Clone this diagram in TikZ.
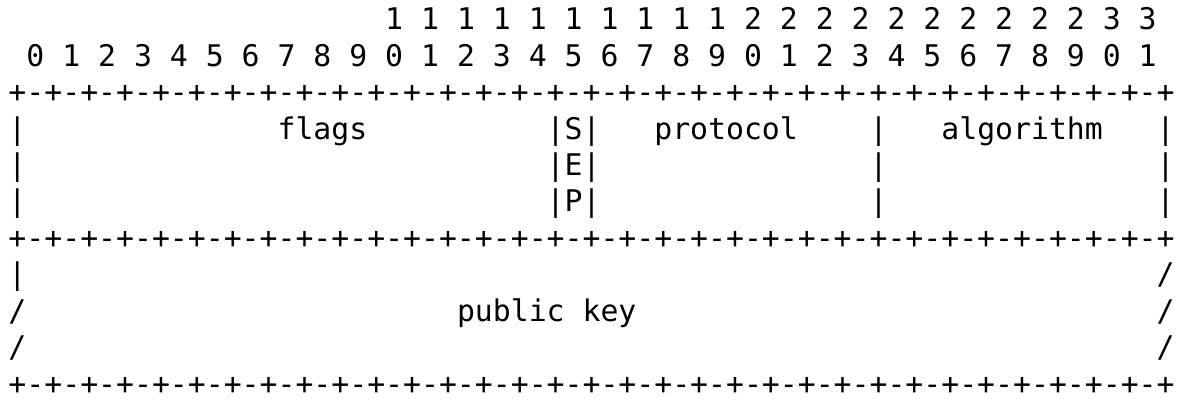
\documentclass[tikz,border=0pt]{standalone}
\usepackage{fontspec}
\setmonofont{DejaVu Sans Mono}
\begin{document}
\begin{tikzpicture}[
  x=17.94pt, y=-36.4pt,
  ch/.style={anchor=base west, inner sep=0pt, outer sep=0pt,
             font=\fontsize{29.8}{36}\selectfont\ttfamily, text=black}
]
\fill[white] (0pt,0pt) rectangle (1182pt,404pt);
\useasboundingbox (0pt,0pt) rectangle (1182pt,404pt);
\begin{scope}[shift={(8.5pt,374pt)}]
  % bit number rows
  \foreach \n in {10,...,31} {
    \pgfmathtruncatemacro{\d}{floor(\n/10)}
    \node[ch] (tens\n) at ({2*\n+1},0) {\d};
  }
  \foreach \n in {0,...,31} {
    \pgfmathtruncatemacro{\d}{mod(\n,10)}
    \node[ch] (ones\n) at ({2*\n+1},1) {\d};
  }
  % border rows
  \node[ch] (borderA) at (0,2) {+-+-+-+-+-+-+-+-+-+-+-+-+-+-+-+-+-+-+-+-+-+-+-+-+-+-+-+-+-+-+-+-+};
  \node[ch] (borderB) at (0,6) {+-+-+-+-+-+-+-+-+-+-+-+-+-+-+-+-+-+-+-+-+-+-+-+-+-+-+-+-+-+-+-+-+};
  \node[ch] (borderC) at (0,10) {+-+-+-+-+-+-+-+-+-+-+-+-+-+-+-+-+-+-+-+-+-+-+-+-+-+-+-+-+-+-+-+-+};
  % first word
  \node[ch] (l3a) at (0,3) {|};
  \node[ch] (flags) at (15,3) {flags};
  \node[ch] (sepS) at (30,3) {|S|};
  \node[ch] (protocol) at (36,3) {protocol};
  \node[ch] (l3b) at (48,3) {|};
  \node[ch] (algorithm) at (52,3) {algorithm};
  \node[ch] (l3c) at (64,3) {|};
  \node[ch] (l4a) at (0,4) {|};
  \node[ch] (sepE) at (30,4) {|E|};
  \node[ch] (l4b) at (48,4) {|};
  \node[ch] (l4c) at (64,4) {|};
  \node[ch] (l5a) at (0,5) {|};
  \node[ch] (sepP) at (30,5) {|P|};
  \node[ch] (l5b) at (48,5) {|};
  \node[ch] (l5c) at (64,5) {|};
  % public key
  \node[ch] (l7a) at (0,7) {|};
  \node[ch] (l7b) at (64,7) {/};
  \node[ch] (l8a) at (0,8) {/};
  \node[ch] (public) at (25,8) {public};
  \node[ch] (key) at (32,8) {key};
  \node[ch] (l8b) at (64,8) {/};
  \node[ch] (l9a) at (0,9) {/};
  \node[ch] (l9b) at (64,9) {/};
\end{scope}
\end{tikzpicture}
\end{document}
